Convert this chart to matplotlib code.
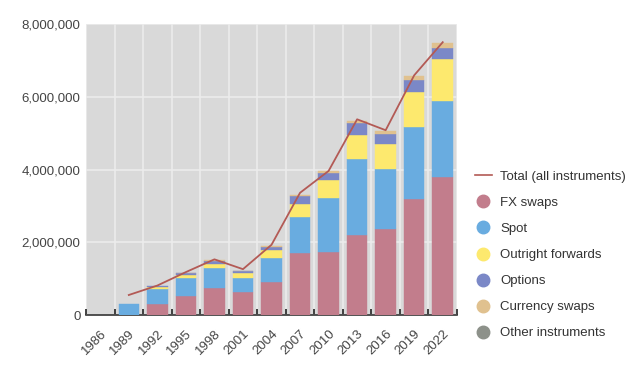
import numpy as np
import matplotlib.pyplot as plt
from matplotlib.lines import Line2D
from matplotlib.ticker import FuncFormatter

plt.rcParams['font.family'] = ['Liberation Sans', 'DejaVu Sans']

years = ["1986", "1989", "1992", "1995", "1998", "2001", "2004", "2007",
         "2010", "2013", "2016", "2019", "2022"]
fx_swaps = [0, 0, 300000, 530000, 730000, 640000, 920000, 1700000,
            1730000, 2210000, 2360000, 3190000, 3800000]
spot = [0, 295000, 410000, 480000, 550000, 370000, 640000, 1000000,
        1490000, 2070000, 1660000, 1980000, 2080000]
outright = [0, 0, 50000, 90000, 130000, 140000, 230000, 350000,
            480000, 660000, 690000, 970000, 1170000]
options = [0, 0, 50000, 50000, 80000, 60000, 90000, 210000,
           210000, 340000, 270000, 320000, 300000]
currency_swaps = [0, 0, 0, 5000, 10000, 7000, 21000, 31000,
                  43000, 54000, 82000, 108000, 124000]
other = [0, 0, 0, 0, 0, 0, 0, 0, 0, 0, 0, 0, 0]
total = [np.nan, 550000, 810000, 1180000, 1530000, 1260000, 1930000, 3360000,
         3960000, 5380000, 5080000, 6590000, 7500000]

series = [
    ("FX swaps", fx_swaps, "#c27d8c"),
    ("Spot", spot, "#69ace0"),
    ("Outright forwards", outright, "#fde96e"),
    ("Options", options, "#7b88c7"),
    ("Currency swaps", currency_swaps, "#e0c18f"),
    ("Other instruments", other, "#8d918a"),
]
line_color = "#b35a55"

fig = plt.figure(figsize=(6.4, 3.81), dpi=100)
ax = fig.add_axes([86/640, 1-315/381, (457-86)/640, (315-24)/381])
ax.set_facecolor("#d9d9d9")

x = np.arange(len(years))
bottom = np.zeros(len(years))
for name, vals, col in series:
    v = np.array(vals, dtype=float)
    mask = v > 0
    if mask.any():
        ax.bar(x[mask], v[mask], bottom=bottom[mask], width=0.72, color=col,
               edgecolor=col, linewidth=0.3, zorder=3)
    bottom += v

ax.plot(x, total, color=line_color, lw=1.3, zorder=4)

ax.set_xlim(-0.5, len(years) - 0.5)
ax.set_ylim(0, 8000000)
ax.set_yticks([0, 2000000, 4000000, 6000000, 8000000])
ax.yaxis.set_major_formatter(FuncFormatter(lambda v, p: f"{int(v):,}"))
ax.set_xticks(x)
ax.set_xticklabels(years, rotation=45, ha='right', rotation_mode='anchor')
ax.set_xticks(np.arange(-0.5, len(years)), minor=True)
ax.tick_params(axis='x', which='major', length=0, pad=9, labelsize=9.5, labelcolor="#444444")
ax.tick_params(axis='x', which='minor', length=4, direction='in', width=1.2, color="#222222")
ax.tick_params(axis='y', length=0, pad=4, labelsize=9.5, labelcolor="#444444")

ax.grid(True, which='minor', axis='x', color='#ececec', lw=1.2, zorder=1)
ax.grid(True, which='major', axis='y', color='#ececec', lw=1.2, zorder=1)
ax.grid(False, which='major', axis='x')
ax.set_axisbelow(True)
for s in ['top', 'right', 'left']:
    ax.spines[s].set_visible(False)
ax.spines['bottom'].set_color('#333333')
ax.spines['bottom'].set_linewidth(1.2)

handles = [Line2D([0], [0], color=line_color, lw=1.2)]
labels = ["Total (all instruments)"]
for name, vals, col in series:
    handles.append(Line2D([0], [0], marker='o', color='none', markerfacecolor=col,
                          markeredgecolor=col, markersize=9))
    labels.append(name)
leg = fig.legend(handles, labels, loc='center left', bbox_to_anchor=(463/640, 1-255/381),
                 frameon=False, fontsize=9.5, handlelength=1.3, handletextpad=0.6,
                 labelspacing=1.05, labelcolor="#333333")

fig.savefig("out.png", dpi=100)
